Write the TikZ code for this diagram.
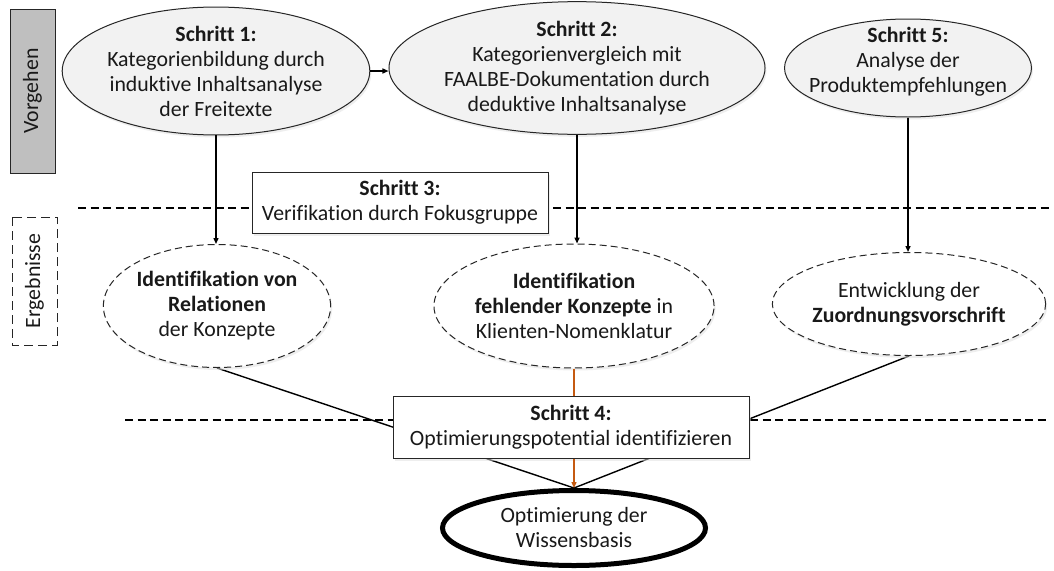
\documentclass[tikz,border=0pt]{standalone}
\usepackage{fontspec}
\setmainfont{Carlito}[Ligatures=NoCommon]
\usetikzlibrary{shapes.geometric,arrows.meta,shadows}
\pgfdeclarelayer{back}
\pgfdeclarelayer{bg}
\pgfsetlayers{back,bg,main}

\definecolor{linegray}{RGB}{38,38,38}
\definecolor{procfill}{RGB}{242,242,242}
\definecolor{sidefill}{RGB}{191,191,191}
\definecolor{accent}{RGB}{197,90,17}
\definecolor{shade}{RGB}{222,222,222}

\begin{document}
\begin{tikzpicture}[x=1pt,y=-1pt,
  every node/.style={font=\fontsize{21.8}{25}\selectfont, text=black!90},
  softshadow/.style={drop shadow={shadow xshift=1.5pt, shadow yshift=-2.5pt,
      fill=shade, draw=none, solid}},
  procell/.style={ellipse, draw=linegray, line width=1pt, fill=procfill,
      inner sep=0pt, align=center, softshadow},
  resell/.style={ellipse, draw=linegray, line width=1pt, fill=white,
      dash pattern=on 7pt off 4pt, inner sep=0pt, align=center, softshadow},
  stepbox/.style={rectangle, draw=linegray, line width=1pt, fill=white,
      inner sep=0pt, align=center, softshadow},
  sidebox/.style={rectangle, draw=linegray, line width=1pt, rotate=90,
      inner sep=0pt},
  conn/.style={draw=black, line width=1.4pt},
  arr/.style={conn, -{Triangle[length=6pt,width=5pt]}},
  hot/.style={draw=accent, line width=1.3pt},
  sepline/.style={draw=black, line width=1.5pt, dash pattern=on 8pt off 4.5pt},
]
\useasboundingbox (0,0) rectangle (1054,570);
\begin{pgfonlayer}{back}
  \fill[white] (0,0) rectangle (1054,570);
\end{pgfonlayer}

% side labels
\node[sidebox, fill=sidefill, minimum width=164, minimum height=45] (vor) at (32.5,91) {Vorgehen};
\node[sidebox, dash pattern=on 9pt off 5pt, minimum width=128, minimum height=45] (erg) at (34.5,281) {Ergebnisse};

% procedure steps
\node[procell, minimum width=296, minimum height=122] (s1) at (216,71)
  {\textbf{Schritt 1:}\\Kategorienbildung durch\\induktive Inhaltsanalyse\\der Freitexte};
\node[procell, minimum width=354, minimum height=122] (s2) at (577,68)
  {\textbf{Schritt 2:}\\Kategorienvergleich mit\\FAALBE-Dokumentation durch\\deduktive Inhaltsanalyse};
\node[procell, minimum width=247, minimum height=98] (s5) at (908,68) {};
\node[align=center, yshift=6pt] (s5t) at (s5.center)
  {\textbf{Schritt 5:}\\Analyse der\\Produktempfehlungen};

\node[stepbox, minimum width=296, minimum height=61] (s3) at (400,202.5)
  {\textbf{Schritt 3:}\\Verifikation durch Fokusgruppe};

% results
\node[resell, minimum width=221, minimum height=123] (rA) at (217,306)
  {\textbf{Identifikation von}\\\textbf{Relationen}\\der Konzepte};
\node[resell, minimum width=273, minimum height=124] (rB) at (574,306)
  {\textbf{Identifikation}\\\textbf{fehlender Konzepte} in\\Klienten-Nomenklatur};
\node[resell, minimum width=253, minimum height=103] (rC) at (909,304)
  {Entwicklung der\\\textbf{Zuordnungsvorschrift}};

\node[stepbox, minimum width=356, minimum height=62] (s4) at (571,427)
  {\textbf{Schritt 4:}\\Optimierungspotential identifizieren};

\node[ellipse, draw=black, line width=5pt, fill=white, inner sep=0pt, align=center,
      minimum width=263, minimum height=75] (fin) at (574,528)
  {Optimierung der\\Wissensbasis};

% separators and connectors, behind the boxes
\coordinate (sepAl) at (78,208);
\coordinate (sepAr) at (1050,208);
\coordinate (sepBl) at (125,420);
\coordinate (sepBr) at (1047,420);
\begin{pgfonlayer}{bg}
  \draw[sepline] (sepAl) -- (sepAr);
  \draw[sepline] (sepBl) -- (sepBr);
  \draw[conn] (rA.south) -- (fin.north);
  \draw[conn] (rC.south) -- (fin.north);
\end{pgfonlayer}

\draw[arr] (s1.east) -- (s1.east -| s2.west);
\draw[arr] (s1.south) -- (s1.south |- rA.north);
\draw[arr] (s2.south) -- (s2.south |- rB.north);
\draw[arr] (s5.south) -- (s5.south |- rC.north);

\draw[hot] (rB.south) -- (rB.south |- s4.north);
\draw[hot, -{Triangle[length=6pt,width=5pt]}] (s4.south -| fin.north) -- (fin.north);
\end{tikzpicture}
\end{document}
